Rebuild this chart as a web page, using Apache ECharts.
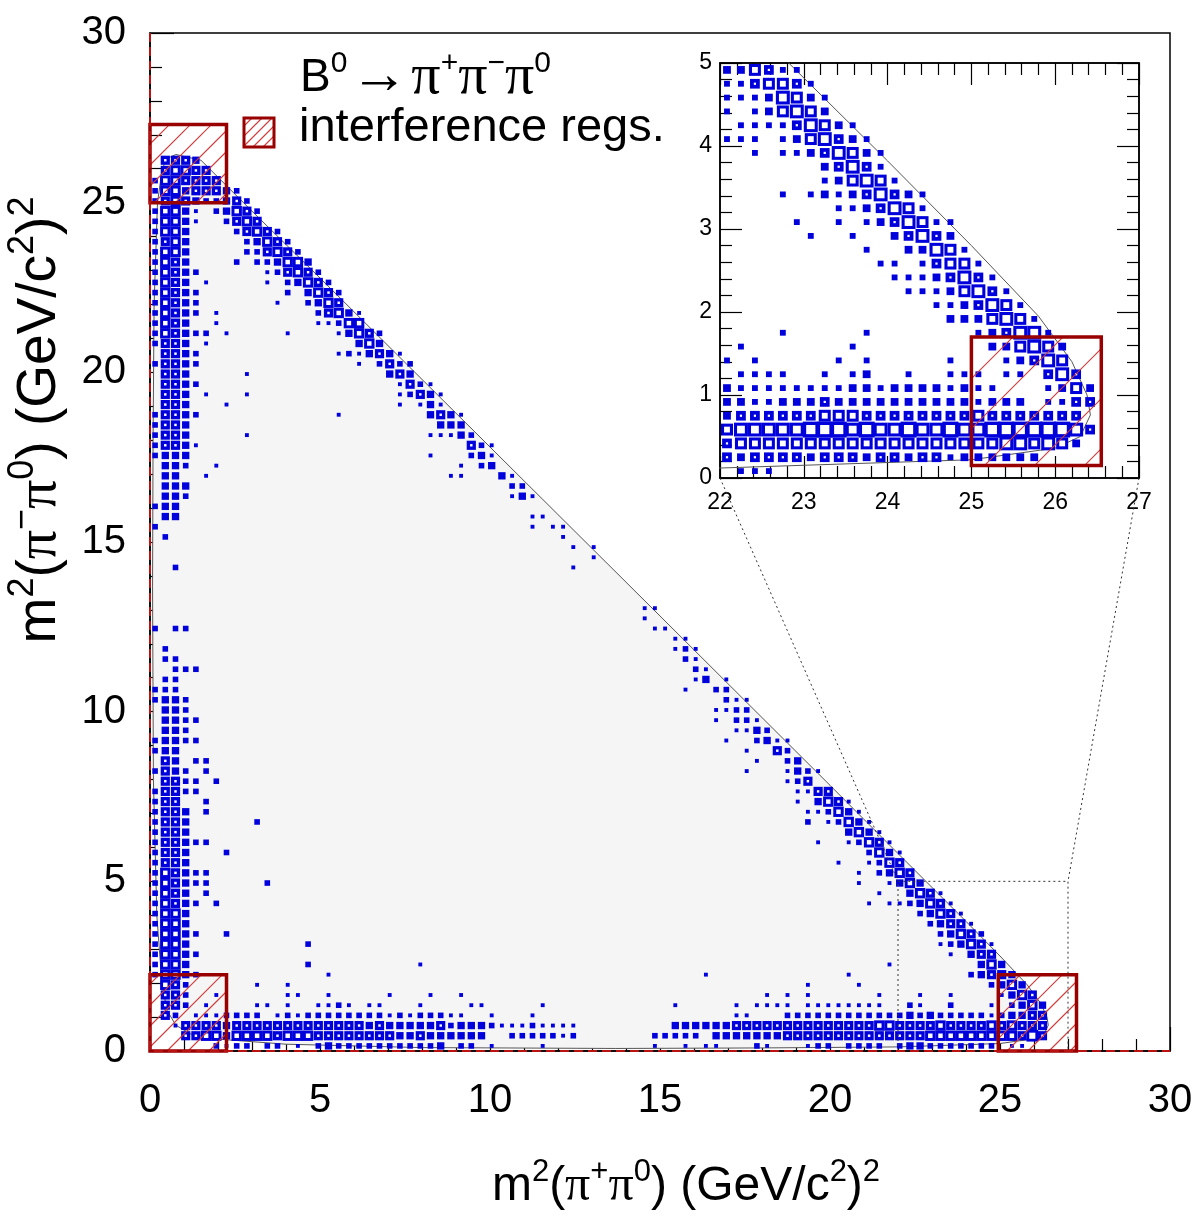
<!DOCTYPE html>
<html>
<head>
<meta charset="utf-8">
<script src="https://cdn.jsdelivr.net/npm/echarts/dist/echarts.min.js"></script>
<style>
html,body{margin:0;padding:0;background:#ffffff;}
#chart{width:1200px;height:1221px;}
</style>
</head>
<body>
<div id="chart"></div>
<script>
// ================= DATA =================
const mainTicks = [0, 5, 10, 15, 20, 25, 30];
const insetXTicks = [22, 23, 24, 25, 26, 27];
const insetYTicks = [0, 1, 2, 3, 4, 5];

const MAIN_BIN = 0.3;        // GeV^2 per bin in main histogram
const INSET_BIN = 1 / 6;     // GeV^2 per bin in zoomed inset

// box-size level per bin ('.' = empty). leftBand row k -> bin row (LEFT_TOP_ROW - k), char index = bin column
const LEFT_TOP_ROW = 87;
const leftBand = [
  ".4443", ".45544", "2554444", "255344432", "2454322342", "25531.23542", "25531..2454",
  "2553....24542", "2453.....23542", "2553.....224542", "2543....2.223553", "25432......124542",
  "2543.1.....1.23542", "25432........2.3542", "25432.......1..2354", "25432.1.........24531",
  "2543..1.........11255", "254322.1.....1....13542", "2443.1..............353",
  ".4432", "24432", ".443.....1", ".4432", ".443.1...1", ".443...1", "24432", "2443", "2443.....1",
  "24431", "2333", ".332..1", ".33..1", ".333", ".332", "233", ".33", "2", ".2", "", "", "..2",
  "", "", "", "", "", "2.22", "", ".2", ".22", "..222", ".22", "222", "2332", ".332", ".3322", ".332",
  "23322", "233", ".43.22", "2432.2", ".4422.2", "24422", "244..2", "2443.2", "2443......2", "2443",
  "244322", "2443...2", "2443", "254322", "254322.....2", "2543.2", "25432.2", "2553", "2553",
  "25532..2", "2553...........2", "25532", "2553...........2..........1", "25532............1"
];
// [bin row, first bin column, levels]
const diagBand = [
  [68, 18, "1213431"], [67, 20, "1.2422"], [66, 23, "343"], [65, 24, "1421"], [64, 24, "12431"],
  [63, 24, "1.131"], [62, 18, "1........3431"], [61, 28, "333"], [60, 27, "11132"], [59, 31, "421"],
  [58, 27, "1...231"], [57, 30, "1.23"], [56, 29, "11...31"], [55, 35, "22"], [54, 35, "131"],
  [52, 37, "11"], [51, 37, "1.11"], [50, 40, "1"], [49, 41, "1.1"], [48, 43, "1"], [47, 41, "1"],
  [43, 48, "11"], [42, 48, "1"], [41, 49, "11"], [40, 51, "11"], [39, 51, "121"], [38, 52, "21"],
  [37, 53, "21"], [36, 53, "13.1"], [35, 52, "1..22"], [34, 56, "211"], [33, 55, "1122"],
  [32, 55, "1.221"], [31, 57, "1132"], [30, 56, "1..2311"], [29, 58, "1..42"], [28, 59, "1..23"],
  [27, 58, "1...1321"], [26, 62, "124"], [25, 63, "1144"], [24, 63, "1.3541"], [23, 64, "112531"],
  [22, 64, "2.12531"], [21, 68, "3531"], [20, 65, "1..12541"], [19, 70, "2531"], [18, 67, "1..1254"],
  [17, 69, "1.2354"], [16, 69, "1..1353"], [15, 71, "1..3541"], [14, 70, "1.1123541"],
  [13, 75, "23541"], [12, 76, "23441"], [11, 77, "23542"], [10, 77, "123541"], [9, 78, "1.344"],
  [8, 72, "1........353"], [7, 54, "1"], [7, 68, "1...........23443"]
];
const bottomBand = [
  [6, 1, "542"], [6, 10, "1..1"], [6, 64, "1....1"], [6, 82, "2353"],
  [5, 1, "442"], [5, 6, "1"], [5, 13, "11..1"], [5, 23, "1...1..1"], [5, 60, "1.1.1"], [5, 71, "1...1..1"], [5, 83, "1354"],
  [4, 1, "442.1"], [4, 10, "11.1..1121.11"], [4, 26, "1"], [4, 31, "11"], [4, 38, "1"], [4, 51, "1"],
  [4, 57, "1.1111.11111111..21..2"], [4, 82, "1.2353"],
  [3, 1, "42.1112222.1212222222212122211"], [3, 33, "1...1"], [3, 57, "11...22222222222232322222123344"],
  [2, 2, "1444434444444444444343333342333211121111"], [2, 51, "3333334444444444444455444454444545444"],
  [1, 3, "445535555455544444444334333333"], [1, 35, "2222212"], [1, 49, "22222.333333344444444444444555555555464"],
  [0, 6, "2122.22.1.2322222222223.22"], [0, 33, "1....1"], [0, 49, "1..1.11...21...122.2222.2332222222.11"]
];
// inset: row k -> bin row (29 - k)
const insetRows = [
  "224311", "1134431", "11125421", "1.124542", ".111135421", "111.1245321", "..1.11235421",
  ".......23531", ".......124541", "....1.121235321", "........1123541", ".....1..1.1235411",
  "......1..1..23532", "..........1..22541", "...........11.13441", "............11123531",
  ".............11124531", "...............1123541", "................2224541",
  "....1.....1.......123551", ".1.......1.........224542", "1.1.....1.1.....1...12354",
  ".1111..1.12..1..111.11.353", "21111111122122221211...1242", "2211222322222222221222.1133",
  "23333334443333333343333333", "455555666565565565566666653", "34444444444444444444554542",
  "32333323332332331222222", ".111"
];
// kinematic (Dalitz) boundary, [m2(pi+pi0), m2(pi-pi0)]
const dalitzBoundary = [
  [0.76, 26.42], [1.5, 26.25], [3, 24.75], [5, 22.78], [10, 17.8], [15, 12.82], [20, 7.83],
  [22, 5.82], [24, 3.82], [25, 2.8], [25.8, 1.95], [26.2, 1.4], [26.38, 1.0], [26.42, 0.76],
  [26.3, 0.5], [26, 0.36], [25, 0.22], [22, 0.12], [18, 0.09], [13.7, 0.075], [8, 0.1],
  [4, 0.2], [2, 0.35], [1.2, 0.5], [0.76, 0.76], [0.5, 1.2], [0.35, 2], [0.2, 4], [0.1, 8],
  [0.075, 13.7], [0.09, 18], [0.12, 22], [0.22, 25], [0.36, 26], [0.5, 26.3], [0.76, 26.42]
];
// interference regions [x0, y0, x1, y1]
const mainRegions = [[0, 25, 2.25, 27.3], [0, 0, 2.25, 2.25], [24.95, 0, 27.25, 2.25]];
const insetRegions = [[25, 0.15, 26.55, 1.7]];
const zoomWindow = [22, 0, 27, 5];

// ================= STYLE =================
const BLUE = '#0000dc';
const DARKRED = '#990000';
const HATCH = '#d03a3a';
const FONT = '"Liberation Sans", Arial, Helvetica, sans-serif';
const SERIF = '"Liberation Serif", "Times New Roman", serif';
// [outer fraction of bin, inner white fraction]
const MAIN_LEVELS = {1: [0.38, 0], 2: [0.55, 0], 3: [0.72, 0], 4: [0.9, 0.24], 5: [1.02, 0.44], 6: [1.15, 0.6]};
const INSET_LEVELS = {1: [0.42, 0], 2: [0.56, 0], 3: [0.7, 0.16], 4: [0.86, 0.42], 5: [1.0, 0.56], 6: [1.15, 0.66]};

function mainCells() {
  const out = [];
  leftBand.forEach((row, k) => {
    const j = LEFT_TOP_ROW - k;
    for (let i = 0; i < row.length; i++) {
      if (row[i] !== '.') out.push([MAIN_BIN * (i + 0.5), MAIN_BIN * (j + 0.5), +row[i]]);
    }
  });
  diagBand.concat(bottomBand).forEach(([j, i0, s]) => {
    for (let k = 0; k < s.length; k++) {
      if (s[k] !== '.') out.push([MAIN_BIN * (i0 + k + 0.5), MAIN_BIN * (j + 0.5), +s[k]]);
    }
  });
  return out;
}
function insetCells() {
  const out = [];
  insetRows.forEach((row, k) => {
    const j = 29 - k;
    for (let i = 0; i < row.length; i++) {
      if (row[i] !== '.') out.push([insetXTicks[0] + INSET_BIN * (i + 0.5), INSET_BIN * (j + 0.5), +row[i]]);
    }
  });
  return out;
}

function boxItem(levels, bin) {
  return function (params, api) {
    const c = api.coord([api.value(0), api.value(1)]);
    const sz = api.size([bin, bin]);
    const lv = levels[api.value(2)];
    const w = sz[0] * lv[0], h = sz[1] * lv[0];
    const kids = [{type: 'rect', shape: {x: c[0] - w / 2, y: c[1] - h / 2, width: w, height: h}, style: {fill: BLUE}}];
    if (lv[1] > 0) {
      const iw = sz[0] * lv[1], ih = sz[1] * lv[1];
      kids.push({type: 'rect', shape: {x: c[0] - iw / 2, y: c[1] - ih / 2, width: iw, height: ih}, style: {fill: '#ffffff'}});
    }
    return {type: 'group', children: kids};
  };
}
function hatchLines(X0, Y0, X1, Y1, spacing, color) {
  const kids = [];
  for (let s = Math.ceil((X0 + Y0) / spacing) * spacing; s <= X1 + Y1; s += spacing) {
    const xa = Math.max(X0, s - Y1), xb = Math.min(X1, s - Y0);
    if (xb > xa) kids.push({type: 'line', shape: {x1: xa, y1: s - xa, x2: xb, y2: s - xb}, style: {stroke: color, lineWidth: 1.1}});
  }
  return kids;
}
function regionItem(spacing, frameW) {
  return function (params, api) {
    const a = api.coord([api.value(0), api.value(3)]);
    const b = api.coord([api.value(2), api.value(1)]);
    const kids = hatchLines(a[0], a[1], b[0], b[1], spacing, HATCH);
    kids.push({type: 'rect', shape: {x: a[0], y: a[1], width: b[0] - a[0], height: b[1] - a[1]},
      style: {fill: null, stroke: DARKRED, lineWidth: frameW}});
    return {type: 'group', children: kids};
  };
}

function axisCommon(min, max, interval, opts) {
  return Object.assign({
    type: 'value', min: min, max: max, interval: interval,
    axisLine: {show: true, onZero: false, lineStyle: {color: '#000', width: 1.5}},
    axisTick: {show: true, inside: true, length: 24, lineStyle: {color: '#000', width: 1.2}},
    minorTick: {show: true, splitNumber: 5, length: 12, lineStyle: {color: '#000', width: 1.2}},
    splitLine: {show: false},
    axisLabel: {show: true, color: '#000', fontFamily: FONT, fontSize: 40, showMinLabel: true, showMaxLabel: true}
  }, opts);
}

const chart = echarts.init(document.getElementById('chart'), null, {renderer: 'canvas'});

const option = {
  animation: false,
  backgroundColor: '#ffffff',
  grid: [
    {left: 150, top: 33, width: 1020, height: 1018, show: true, borderColor: '#000', borderWidth: 1.5, backgroundColor: 'transparent', containLabel: false, outerBoundsMode: 'none'},
    {left: 720, top: 63, width: 419, height: 415, show: true, borderColor: '#000', borderWidth: 1.5, backgroundColor: '#ffffff', containLabel: false, outerBoundsMode: 'none'}
  ],
  xAxis: [
    axisCommon(mainTicks[0], mainTicks[mainTicks.length - 1], mainTicks[1] - mainTicks[0], {gridIndex: 0, position: 'bottom',
      axisLabel: {show: true, color: '#000', fontFamily: FONT, fontSize: 40, margin: 30, showMinLabel: true, showMaxLabel: true}}),
    axisCommon(insetXTicks[0], insetXTicks[insetXTicks.length - 1], 1, {gridIndex: 1, position: 'bottom',
      axisTick: {show: true, inside: true, length: 22, lineStyle: {color: '#000', width: 1.2}},
      axisLabel: {show: true, color: '#000', fontFamily: FONT, fontSize: 23, margin: 13, showMinLabel: true, showMaxLabel: true}}),
    axisCommon(insetXTicks[0], insetXTicks[insetXTicks.length - 1], 1, {gridIndex: 1, position: 'top',
      axisTick: {show: true, inside: true, length: 22, lineStyle: {color: '#000', width: 1.2}},
      axisLabel: {show: false}})
  ],
  yAxis: [
    axisCommon(mainTicks[0], mainTicks[mainTicks.length - 1], mainTicks[1] - mainTicks[0], {gridIndex: 0, position: 'left',
      axisLabel: {show: true, color: '#000', fontFamily: FONT, fontSize: 40, margin: 24, showMinLabel: true, showMaxLabel: true}}),
    axisCommon(insetYTicks[0], insetYTicks[insetYTicks.length - 1], 1, {gridIndex: 1, position: 'left',
      axisTick: {show: true, inside: true, length: 22, lineStyle: {color: '#000', width: 1.2}},
      axisLabel: {show: true, color: '#000', fontFamily: FONT, fontSize: 23, margin: 8, showMinLabel: true, showMaxLabel: true}}),
    axisCommon(insetYTicks[0], insetYTicks[insetYTicks.length - 1], 1, {gridIndex: 1, position: 'right',
      axisTick: {show: true, inside: true, length: 22, lineStyle: {color: '#000', width: 1.2}},
      axisLabel: {show: false}})
  ],
  series: [
    { // Dalitz region fill
      type: 'custom', xAxisIndex: 0, yAxisIndex: 0, silent: true, z: 1, clip: false,
      data: [[dalitzBoundary[0][0], dalitzBoundary[0][1]]],
      encode: {x: 0, y: 1},
      renderItem: function (params, api) {
        return {type: 'polygon', shape: {points: dalitzBoundary.map(p => api.coord(p))},
          style: {fill: '#f5f5f5', stroke: '#555555', lineWidth: 1}};
      }
    },
    { // main boxes
      type: 'custom', xAxisIndex: 0, yAxisIndex: 0, silent: true, z: 3, clip: false,
      dimensions: ['x', 'y', 'level'], encode: {x: 0, y: 1},
      data: mainCells(), renderItem: boxItem(MAIN_LEVELS, MAIN_BIN)
    },
    { // main interference regions
      type: 'custom', xAxisIndex: 0, yAxisIndex: 0, silent: true, z: 4, clip: false,
      encode: {x: [0, 2], y: [1, 3]}, data: mainRegions, renderItem: regionItem(21, 3.5)
    },
    { // zoom window (dotted)
      type: 'line', xAxisIndex: 0, yAxisIndex: 0, silent: true, z: 5, showSymbol: false,
      data: [[zoomWindow[0], zoomWindow[1]], [zoomWindow[0], zoomWindow[3]], [zoomWindow[2], zoomWindow[3]], [zoomWindow[2], zoomWindow[1]]],
      lineStyle: {color: '#333333', width: 1, type: [2, 3]}
    },
    { // red dashed lines along axes
      type: 'line', xAxisIndex: 0, yAxisIndex: 0, silent: true, z: 5, showSymbol: false,
      data: [[0, mainTicks[mainTicks.length - 1]], [0, 0], [mainTicks[mainTicks.length - 1], 0]],
      lineStyle: {color: '#bb1111', width: 2, type: [9, 5]}
    },
    { // inset boundary
      type: 'line', xAxisIndex: 1, yAxisIndex: 1, silent: true, z: 2, showSymbol: false, clip: true,
      data: dalitzBoundary, lineStyle: {color: '#555555', width: 1}
    },
    { // inset boxes
      type: 'custom', xAxisIndex: 1, yAxisIndex: 1, silent: true, z: 3, clip: false,
      dimensions: ['x', 'y', 'level'], encode: {x: 0, y: 1},
      data: insetCells(), renderItem: boxItem(INSET_LEVELS, INSET_BIN)
    },
    { // inset interference region
      type: 'custom', xAxisIndex: 1, yAxisIndex: 1, silent: true, z: 4, clip: false,
      encode: {x: [0, 2], y: [1, 3]}, data: insetRegions, renderItem: regionItem(50, 3.5)
    }
  ]
};
chart.setOption(option);

// ---- text, legend and zoom connectors ----
function richSet(base, sup, pi, arrow, lh) {
  return {
    n: {fontFamily: FONT, fontSize: base, lineHeight: lh, fill: '#000'},
    s: {fontFamily: FONT, fontSize: sup, lineHeight: sup, verticalAlign: 'top', fill: '#000'},
    p: {fontFamily: SERIF, fontSize: pi, lineHeight: lh, fill: '#000'},
    a: {fontFamily: SERIF, fontSize: arrow, lineHeight: lh, fill: '#000', padding: [0, 3, 0, 3]}
  };
}
const richX = richSet(48, 31, 50, 44, 60);
const richY = richSet(55, 36, 58, 50, 70);
const richL = richSet(46, 30, 58, 58, 58);
const xTitle = '{n|m}{s|2}{n|(}{p|π}{s|+}{p|π}{s|0}{n|) (GeV/c}{s|2}{n|)}{s|2}';
const yTitle = '{n|m}{s|2}{n|(}{p|π}{s|−}{p|π}{s|0}{n|) (GeV/c}{s|2}{n|)}{s|2}';
const legTitle = '{n|B}{s|0}{a|→}{p|π}{s|+}{p|π}{s|−}{p|π}{s|0}';

const pInBL = chart.convertToPixel({gridIndex: 1}, [zoomWindow[0], zoomWindow[1]]);
const pInBR = chart.convertToPixel({gridIndex: 1}, [zoomWindow[2], zoomWindow[1]]);
const pMainTL = chart.convertToPixel({gridIndex: 0}, [zoomWindow[0], zoomWindow[3]]);
const pMainTR = chart.convertToPixel({gridIndex: 0}, [zoomWindow[2], zoomWindow[3]]);

const legBox = {x0: 244, y0: 118, x1: 274, y1: 147};
chart.setOption({
  graphic: [
    {type: 'line', z: 50, shape: {x1: pInBL[0], y1: pInBL[1], x2: pMainTL[0], y2: pMainTL[1]}, style: {stroke: '#333', lineWidth: 1, lineDash: [2, 3]}},
    {type: 'line', z: 50, shape: {x1: pInBR[0], y1: pInBR[1], x2: pMainTR[0], y2: pMainTR[1]}, style: {stroke: '#333', lineWidth: 1, lineDash: [2, 3]}},
    {type: 'group', z: 60, children: hatchLines(legBox.x0, legBox.y0, legBox.x1, legBox.y1, 10, HATCH).concat([
      {type: 'rect', shape: {x: legBox.x0, y: legBox.y0, width: legBox.x1 - legBox.x0, height: legBox.y1 - legBox.y0},
        style: {fill: null, stroke: DARKRED, lineWidth: 3}}])},
    {type: 'text', z: 60, x: 300, y: 78, style: {text: legTitle, rich: richL, align: 'left', verticalAlign: 'middle'}},
    {type: 'text', z: 60, x: 299, y: 128, style: {text: 'interference regs.', fontFamily: FONT, fontSize: 47, fill: '#000', align: 'left', verticalAlign: 'middle'}},
    {type: 'text', z: 60, x: 686, y: 1187, style: {text: xTitle, rich: richX, align: 'center', verticalAlign: 'middle'}},
    {type: 'text', z: 60, x: 40, y: 420, rotation: Math.PI / 2, style: {text: yTitle, rich: richY, align: 'center', verticalAlign: 'middle'}}
  ]
});
</script>
</body>
</html>
